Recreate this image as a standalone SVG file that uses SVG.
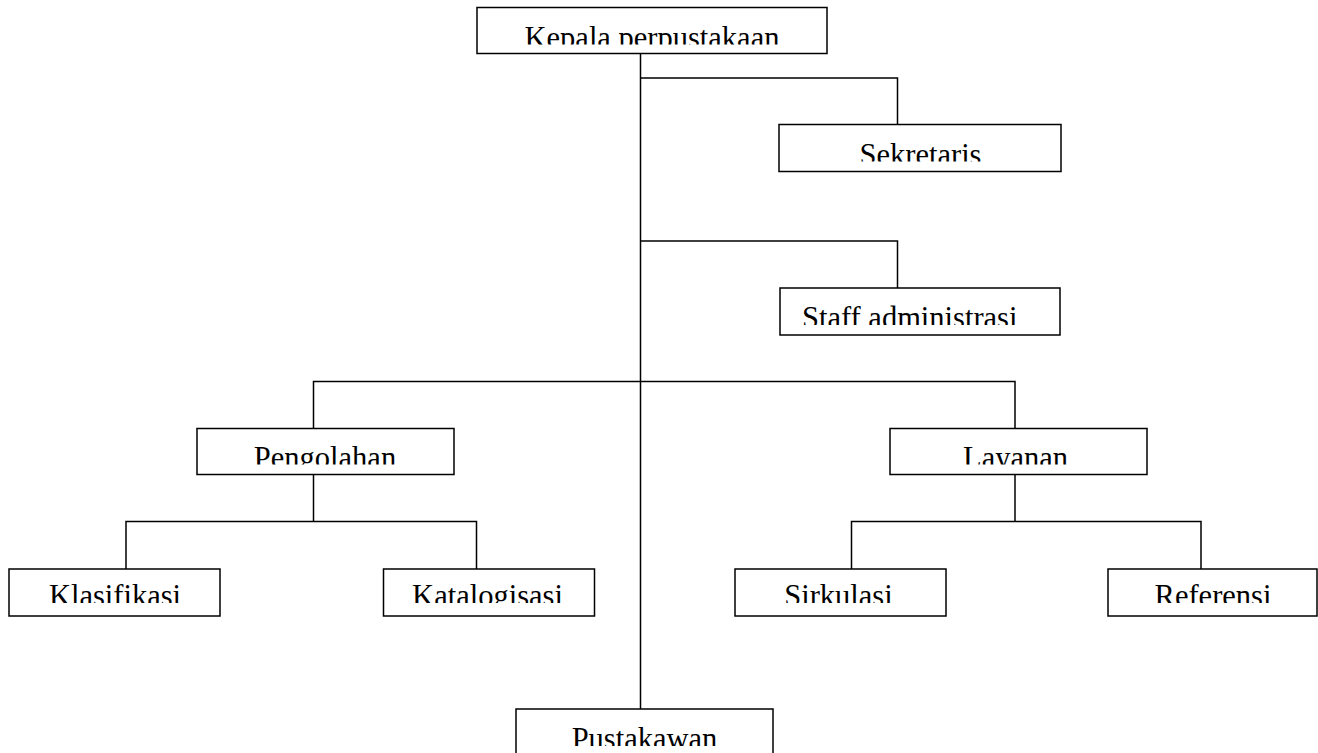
<svg xmlns="http://www.w3.org/2000/svg" width="1318" height="753" viewBox="0 0 1318 753">
<style>
.box{fill:#fff;stroke:#000;stroke-width:1.5}
.lbl{font-family:"Liberation Serif","Times New Roman",serif;font-size:30.5px;fill:#000;text-anchor:middle}
.con{fill:none;stroke:#000;stroke-width:1.5}
</style>
<defs>
<clipPath id="c-kepala"><rect x="477" y="7.5" width="350" height="37"/></clipPath>
<clipPath id="c-sekretaris"><rect x="779" y="124.5" width="282" height="37"/></clipPath>
<clipPath id="c-staff"><rect x="780" y="288" width="280" height="37"/></clipPath>
<clipPath id="c-pengolahan"><rect x="197" y="428.5" width="257" height="36"/></clipPath>
<clipPath id="c-layanan"><rect x="890" y="428.5" width="257" height="36"/></clipPath>
<clipPath id="c-klasifikasi"><rect x="9" y="569" width="211" height="34"/></clipPath>
<clipPath id="c-katalogisasi"><rect x="383.5" y="569" width="211" height="34"/></clipPath>
<clipPath id="c-sirkulasi"><rect x="735" y="569" width="211" height="34"/></clipPath>
<clipPath id="c-referensi"><rect x="1108" y="569" width="209" height="34"/></clipPath>
<clipPath id="c-pustakawan"><rect x="516" y="709" width="257" height="37"/></clipPath>
</defs>
<g id="connectors">
<path class="con" d="M640.5 53.5 V709"/>
<path class="con" d="M640.5 78 H897.5 V124.5"/>
<path class="con" d="M640.5 241 H897.5 V288"/>
<path class="con" d="M313.5 428.5 V381.5 H1015 V428.5"/>
<path class="con" d="M313.5 474.5 V521.5"/>
<path class="con" d="M126 569 V521.5 H476.5 V569"/>
<path class="con" d="M1015 474.5 V521.5"/>
<path class="con" d="M851.5 569 V521.5 H1201 V569"/>
</g>
<g id="kepala">
<rect class="box" x="477" y="7.5" width="350" height="46"/>
<text class="lbl" x="652" y="47.5" clip-path="url(#c-kepala)">Kepala perpustakaan</text>
</g>
<g id="sekretaris">
<rect class="box" x="779" y="124.5" width="282" height="47"/>
<text class="lbl" x="920.5" y="164.5" clip-path="url(#c-sekretaris)">Sekretaris</text>
</g>
<g id="staff">
<rect class="box" x="780" y="288" width="280" height="47"/>
<text class="lbl" x="802" y="328" style="text-anchor:start" clip-path="url(#c-staff)">Staff administrasi</text>
</g>
<g id="pengolahan">
<rect class="box" x="197" y="428.5" width="257" height="46"/>
<text class="lbl" x="325" y="467.5" clip-path="url(#c-pengolahan)">Pengolahan</text>
</g>
<g id="layanan">
<rect class="box" x="890" y="428.5" width="257" height="46"/>
<text class="lbl" x="1015.5" y="467.5" clip-path="url(#c-layanan)">Layanan</text>
</g>
<g id="klasifikasi">
<rect class="box" x="9" y="569" width="211" height="47"/>
<text class="lbl" x="115" y="606" clip-path="url(#c-klasifikasi)">Klasifikasi</text>
</g>
<g id="katalogisasi">
<rect class="box" x="383.5" y="569" width="211" height="47"/>
<text class="lbl" x="487.5" y="606" clip-path="url(#c-katalogisasi)">Katalogisasi</text>
</g>
<g id="sirkulasi">
<rect class="box" x="735" y="569" width="211" height="47"/>
<text class="lbl" x="838.5" y="606" clip-path="url(#c-sirkulasi)">Sirkulasi</text>
</g>
<g id="referensi">
<rect class="box" x="1108" y="569" width="209" height="47"/>
<text class="lbl" x="1213" y="606" clip-path="url(#c-referensi)">Referensi</text>
</g>
<g id="pustakawan">
<rect class="box" x="516" y="709" width="257" height="47"/>
<text class="lbl" x="644.5" y="749" clip-path="url(#c-pustakawan)">Pustakawan</text>
</g>
</svg>
